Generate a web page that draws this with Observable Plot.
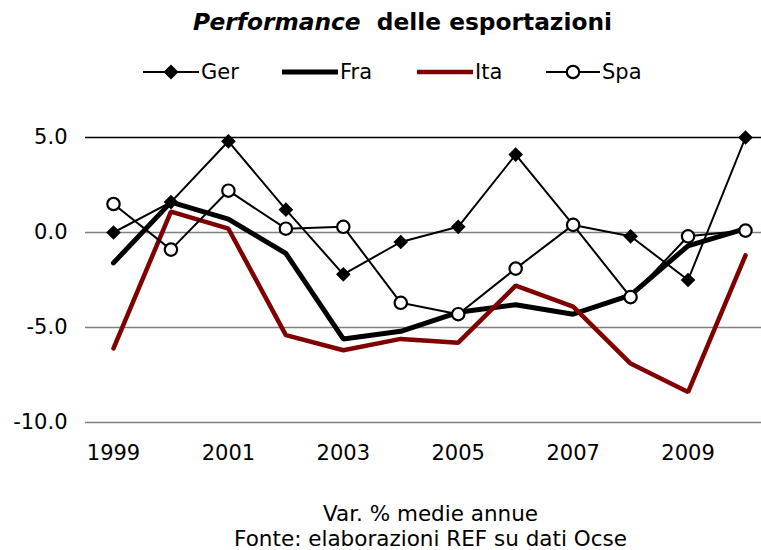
<!DOCTYPE html>
<html>
<head>
<meta charset="utf-8">
<script src="https://cdn.jsdelivr.net/npm/d3@7"></script>
<script src="https://cdn.jsdelivr.net/npm/@observablehq/plot@0.6"></script>
<style>
  html, body { margin: 0; padding: 0; background: #fff; }
  body { width: 761px; height: 550px; position: relative; overflow: hidden; font-family: "DejaVu Sans", Verdana, sans-serif; color: #000; }
  #title { position: absolute; left: 22px; top: 8px; width: 761px; text-align: center; font-weight: bold; font-size: 23.3px; }
  #legend { position: absolute; left: 0; top: 57px; width: 761px; height: 30px; }
  .litem { position: absolute; top: 0; height: 30px; display: flex; align-items: center; font-size: 21px; }
  .litem svg { margin-right: 2px; }
  #chart { position: absolute; left: 0; top: 100px; }
  .cap { position: absolute; left: 50px; width: 761px; text-align: center; font-size: 21.5px; line-height: 22px; height: 22px; }
  #cap1 { top: 503px; }
  #cap2 { top: 528px; }
</style>
</head>
<body>
<div id="title"><i>Performance</i>&nbsp; delle esportazioni</div>
<div id="legend"></div>
<div id="chart"></div>
<div class="cap" id="cap1">Var. % medie annue</div>
<div class="cap" id="cap2">Fonte: elaborazioni REF su dati Ocse</div>
<script>
const years = [1999, 2000, 2001, 2002, 2003, 2004, 2005, 2006, 2007, 2008, 2009, 2010];
const ger = [0.0, 1.6, 4.8, 1.2, -2.2, -0.5, 0.3, 4.1, 0.4, -0.2, -2.5, 5.0];
const fra = [-1.6, 1.6, 0.7, -1.1, -5.6, -5.2, -4.2, -3.8, -4.3, -3.3, -0.7, 0.2];
const ita = [-6.1, 1.1, 0.2, -5.4, -6.2, -5.6, -5.8, -2.8, -3.9, -6.9, -8.4, -1.2];
const spa = [1.5, -0.9, 2.2, 0.2, 0.3, -3.7, -4.3, -1.9, 0.4, -3.4, -0.2, 0.1];
const seriesNames = ["Ger", "Fra", "Ita", "Spa"];
const xTicks = [1999, 2001, 2003, 2005, 2007, 2009];
const yTicks = [5, 0, -5, -10];

const toRows = (vals) => years.map((y, i) => ({year: y, value: vals[i]}));
const gerRows = toRows(ger), fraRows = toRows(fra), itaRows = toRows(ita), spaRows = toRows(spa);

const red = "#800000";

const chart = Plot.plot({
  width: 761,
  height: 380,
  marginLeft: 85,
  marginRight: 0,
  marginTop: 37,
  marginBottom: 58,
  style: {fontFamily: "DejaVu Sans, Verdana, sans-serif", fontSize: "21px", color: "#000", background: "transparent", overflow: "visible"},
  x: {domain: [1999 - 28 / 57.45, 2010 + 16 / 57.45], ticks: xTicks, tickFormat: d => String(d), tickSize: 0, tickPadding: 23, label: null},
  y: {domain: [-10, 5], ticks: yTicks, tickFormat: d => d.toFixed(1), tickSize: 0, tickPadding: 18, label: null},
  marks: [
    Plot.ruleY(yTicks, {stroke: d => d === 5 ? "#000" : "#808080", strokeWidth: 1.3}),
    Plot.line(gerRows, {x: "year", y: "value", stroke: "#000", strokeWidth: 2}),
    Plot.line(fraRows, {x: "year", y: "value", stroke: "#000", strokeWidth: 5, strokeLinejoin: "miter"}),
    Plot.line(itaRows, {x: "year", y: "value", stroke: red, strokeWidth: 4.5, strokeLinejoin: "miter"}),
    Plot.line(spaRows, {x: "year", y: "value", stroke: "#000", strokeWidth: 2}),
    Plot.dot(gerRows, {x: "year", y: "value", symbol: "diamond2", r: 6.6, fill: "#000", stroke: "none"}),
    Plot.dot(spaRows, {x: "year", y: "value", symbol: "circle", r: 6.2, fill: "#fff", stroke: "#000", strokeWidth: 2.2})
  ]
});
document.getElementById("chart").appendChild(chart);

// Legend
const legendDefs = [
  {name: seriesNames[0], left: 143, w: 56, stroke: "#000", sw: 2, marker: "diamond"},
  {name: seriesNames[1], left: 282, w: 56, stroke: "#000", sw: 5, marker: null},
  {name: seriesNames[2], left: 417, w: 56, stroke: red, sw: 4.5, marker: null},
  {name: seriesNames[3], left: 546, w: 54, stroke: "#000", sw: 2, marker: "circle"}
];
const legend = document.getElementById("legend");
for (const d of legendDefs) {
  const item = document.createElement("div");
  item.className = "litem";
  item.style.left = d.left + "px";
  let m = "";
  const cx = d.w / 2;
  if (d.marker === "diamond") m = `<path d="M${cx},${15-7.5} L${cx+7.5},15 L${cx},${15+7.5} L${cx-7.5},15 Z" fill="#000"/>`;
  if (d.marker === "circle") m = `<circle cx="${cx}" cy="15" r="6.2" fill="#fff" stroke="#000" stroke-width="2.2"/>`;
  item.innerHTML = `<svg width="${d.w}" height="30"><line x1="0" x2="${d.w}" y1="15" y2="15" stroke="${d.stroke}" stroke-width="${d.sw}" stroke-linecap="${d.sw > 3 ? 'round' : 'butt'}"/>${m}</svg><span>${d.name}</span>`;
  legend.appendChild(item);
}
</script>
</body>
</html>
